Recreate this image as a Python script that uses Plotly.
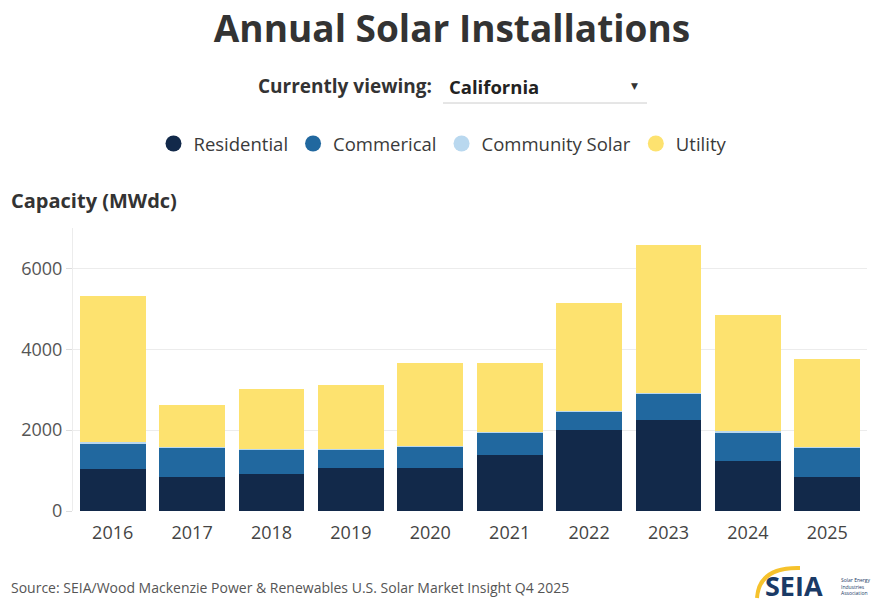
import plotly.graph_objects as go

# Annual installed capacity in California, MWdc, by market segment
years = ["2016", "2017", "2018", "2019", "2020", "2021", "2022", "2023", "2024", "2025"]
residential = [1030, 845, 910, 1060, 1060, 1390, 2010, 2255, 1225, 845]
commercial = [650, 730, 610, 460, 530, 540, 460, 640, 720, 730]
community_solar = [30, 20, 20, 12, 15, 12, 10, 13, 40, 20]
utility = [3605, 1015, 1485, 1585, 2060, 1730, 2655, 3665, 2875, 2175]

series_names = ["Residential", "Commerical", "Community Solar", "Utility"]
series_values = [residential, commercial, community_solar, utility]
series_colors = ["#12294a", "#21689f", "#b9d8ef", "#fde26f"]

y_ticks = [0, 2000, 4000, 6000]

W, H = 877, 604
M_L, M_R, M_T, M_B = 73, 10, 228, 93
PW, PH = W - M_L - M_R, H - M_T - M_B


def px_x(x):
    return (x - M_L) / PW


def px_y(y):
    return (H - M_B - y) / PH


FONT = "Open Sans"
TEXT_DARK = "#333333"

fig = go.Figure()

for name, vals, color in zip(series_names, series_values, series_colors):
    fig.add_trace(go.Bar(
        x=years, y=vals, name=name,
        marker=dict(color=color, line=dict(width=0)),
        showlegend=False,
        hovertemplate="%{x}<br>" + name + ": %{y} MWdc<extra></extra>",
    ))

# round legend swatches
for name, color in zip(series_names, series_colors):
    fig.add_trace(go.Scatter(
        x=[None], y=[None], mode="markers", name=name,
        marker=dict(color=color, size=19, symbol="circle"),
        showlegend=True,
    ))

fig.update_layout(
    width=W, height=H,
    margin=dict(l=M_L, r=M_R, t=M_T, b=M_B),
    paper_bgcolor="white", plot_bgcolor="white",
    barmode="stack", bargap=0.17,
    font=dict(family=FONT, color=TEXT_DARK),
    title=dict(
        text="<b>Annual Solar Installations</b>",
        font=dict(family=FONT, size=37, color=TEXT_DARK),
        x=452 / W, xanchor="center", xref="container",
        y=1 - 29 / H, yanchor="middle", yref="container",
    ),
    legend=dict(
        orientation="h",
        xref="container", yref="container",
        x=443 / W, xanchor="center",
        y=1 - 144 / H, yanchor="middle",
        font=dict(family=FONT, size=18.5, color="#3a3a3a"),
        itemwidth=30, traceorder="normal",
        bgcolor="rgba(0,0,0,0)",
    ),
    xaxis=dict(
        type="category",
        tickfont=dict(family=FONT, size=18, color="#444444"),
        showgrid=False, showline=False, ticks="",
        ticklabelstandoff=9,
        fixedrange=True,
    ),
    yaxis=dict(
        range=[0, 7000],
        tickvals=y_ticks,
        tickfont=dict(family=FONT, size=18, color="#555555"),
        showgrid=True, gridcolor="#ececec", gridwidth=1,
        showline=True, linecolor="#ececec", linewidth=1,
        ticks="outside", ticklen=6, tickcolor="#dddddd",
        zeroline=False, fixedrange=True,
    ),
)

annotations = [
    dict(text="<b>Capacity (MWdc)</b>", x=px_x(9), y=px_y(200),
         xanchor="left", yanchor="middle",
         font=dict(family=FONT, size=20, color=TEXT_DARK)),
    dict(text="<b>Currently viewing:</b>", x=px_x(434), y=px_y(86),
         xanchor="right", yanchor="middle",
         font=dict(family=FONT, size=19, color=TEXT_DARK)),
    dict(text="<b>California</b>", x=px_x(447), y=px_y(86),
         xanchor="left", yanchor="middle",
         font=dict(family=FONT, size=18.5, color="#222222")),
    dict(text="▼", x=px_x(634), y=px_y(86),
         xanchor="center", yanchor="middle",
         font=dict(family="DejaVu Sans", size=9, color="#333333")),
    dict(text="Source: SEIA/Wood Mackenzie Power & Renewables U.S. Solar Market Insight Q4 2025",
         x=px_x(9), y=px_y(587), xanchor="left", yanchor="middle",
         font=dict(family=FONT, size=14, color="#555555")),
    dict(text="<b>SEIA</b>", x=px_x(763), y=px_y(585),
         xanchor="left", yanchor="middle",
         font=dict(family=FONT, size=27, color="#1a3a66")),
    dict(text="Solar Energy<br>Industries<br>Association", x=px_x(839), y=px_y(586),
         xanchor="left", yanchor="middle", align="left",
         font=dict(family=FONT, size=5, color="#1a3a66")),
]
for a in annotations:
    a.update(xref="paper", yref="paper", showarrow=False)
fig.update_layout(annotations=annotations)

# dropdown underline and logo arc
fig.add_shape(type="line", xref="paper", yref="paper",
              x0=px_x(443), x1=px_x(647), y0=px_y(103), y1=px_y(103),
              line=dict(color="#cccccc", width=1))
fig.add_shape(type="path", xref="paper", yref="paper",
              path=(f"M {px_x(757)} {px_y(598)} "
                    f"Q {px_x(759)} {px_y(567)} {px_x(800)} {px_y(568)}"),
              line=dict(color="#f6c22c", width=4))

fig.write_html("out.html")
